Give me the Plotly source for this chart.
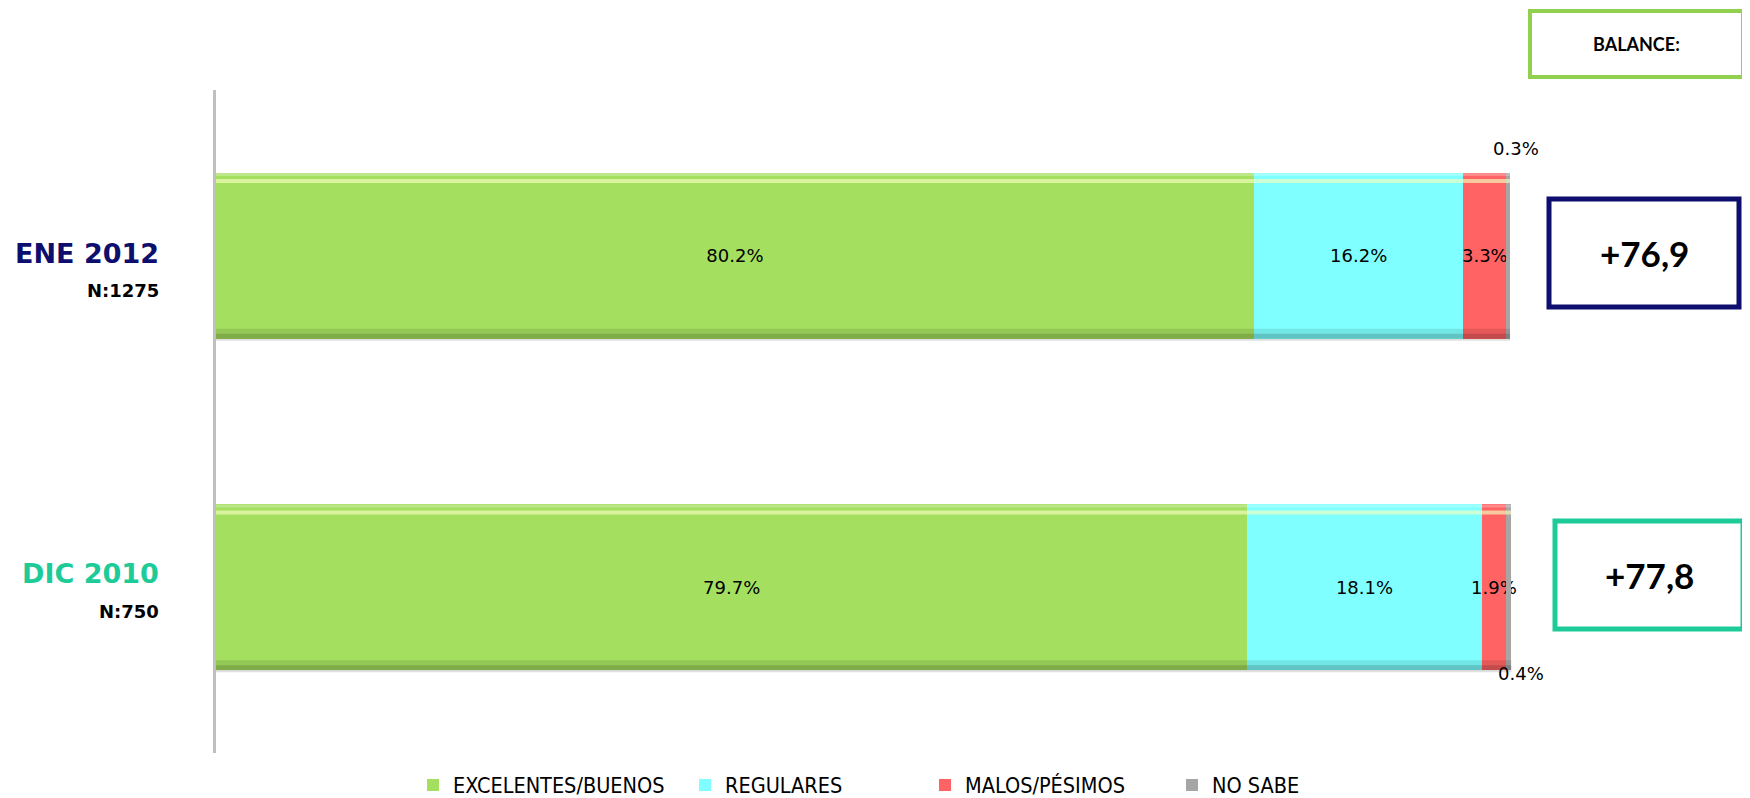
import plotly.graph_objects as go

# ---------------- data ----------------
periods = ["ENE 2012", "DIC 2010"]
sample_sizes = ["N:1275", "N:750"]
series_names = ["EXCELENTES/BUENOS", "REGULARES", "MALOS/PÉSIMOS", "NO SABE"]
excelentes = [80.2, 79.7]
regulares = [16.2, 18.1]
malos = [3.3, 1.9]
no_sabe = [0.3, 0.4]
balances = ["+76,9", "+77,8"]

# ---------------- style ----------------
colors = ["#A5DF60", "#7FFFFF", "#FF6363", "#A6A6A6"]
period_colors = ["#0E0E6E", "#1DCB98"]
legend_x_px = [413, 685, 925, 1172]  # left edge of each legend entry (reference pixels)
OFF = 8  # default page body margin
W, H = 1750 - OFF, 798 - OFF
L, R, T, B = 216 - OFF, 238, 90 - OFF, 45
PW, PH = W - L - R, H - T - B
XMAX = 100.15
FONT = "DejaVu Sans, sans-serif"
LEG_FONT = "DejaVu Sans Condensed, DejaVu Sans, sans-serif"


def px_x(px):
    return (px - OFF - L) / PW


def px_y(py):
    return (H - B - (py - OFF)) / PH


fig = go.Figure()
series = [excelentes, regulares, malos, no_sabe]
legend_ids = ["legend", "legend2", "legend3", "legend4"]
for name, vals, col, lid in zip(series_names, series, colors, legend_ids):
    show_text = name != "NO SABE"
    fig.add_trace(go.Bar(
        y=list(range(len(periods))), x=vals, name=name, orientation="h",
        marker=dict(color=col, line=dict(width=0)),
        width=0.5, legend=lid,
        text=[f"{v:.1f}%" for v in vals] if show_text else None,
        textposition="inside" if show_text else "none",
        insidetextanchor="middle", textangle=0, constraintext="none",
        textfont=dict(family=FONT, size=18, color="black"),
        cliponaxis=False,
        hoverinfo="name+x",
    ))

shapes = []
annotations = []
unit = 1.0 / (PH / 2)  # y data units per pixel
totals = [round(excelentes[i] + regulares[i] + malos[i] + no_sabe[i], 1) for i in range(len(periods))]
for i in range(len(periods)):
    total = totals[i]
    top = i - 0.25
    bot = i + 0.25
    # glossy highlight
    shapes.append(dict(type="rect", xref="x", yref="y", x0=0, x1=total,
                       y0=top, y1=top + 3 * unit, line=dict(width=0),
                       fillcolor="rgba(255,255,255,0.25)"))
    shapes.append(dict(type="line", xref="x", yref="y", x0=0, x1=total,
                       y0=top + 8 * unit, y1=top + 8 * unit,
                       line=dict(color="rgba(245,255,190,0.65)", width=4)))
    # darker bottom band
    shapes.append(dict(type="rect", xref="x", yref="y", x0=0, x1=total,
                       y0=bot - 10 * unit, y1=bot, line=dict(width=0),
                       fillcolor="rgba(0,0,0,0.10)"))
    shapes.append(dict(type="rect", xref="x", yref="y", x0=0, x1=total,
                       y0=bot - 5 * unit, y1=bot, line=dict(width=0),
                       fillcolor="rgba(0,0,0,0.14)"))
    # faint shadow below the bar
    shapes.append(dict(type="rect", xref="x", yref="y", x0=0, x1=total,
                       y0=bot, y1=bot + 2 * unit, line=dict(width=0),
                       fillcolor="rgba(0,0,0,0.12)"))

# no sabe labels outside the bars
annotations.append(dict(x=totals[0], y=0,
                        xref="x", yref="y", text=f"{no_sabe[0]:.1f}%", showarrow=False,
                        xshift=6, yshift=107,
                        font=dict(family=FONT, size=18, color="black")))
annotations.append(dict(x=totals[1], y=1,
                        xref="x", yref="y", text=f"{no_sabe[1]:.1f}%", showarrow=False,
                        xshift=10, yshift=-86,
                        font=dict(family=FONT, size=18, color="black")))

# period labels on the left
label_pos = [(253, 290), (573, 611)]
for i, (p, n) in enumerate(zip(periods, sample_sizes)):
    annotations.append(dict(x=px_x(161), y=px_y(label_pos[i][0]), xref="paper", yref="paper",
                            xanchor="right", yanchor="middle", text=f"<b>{p}</b>", showarrow=False,
                            font=dict(family=FONT, size=27, color=period_colors[i])))
    annotations.append(dict(x=px_x(161), y=px_y(label_pos[i][1]), xref="paper", yref="paper",
                            xanchor="right", yanchor="middle", text=f"<b>{n}</b>", showarrow=False,
                            font=dict(family=FONT, size=18, color="black")))

# balance boxes
boxes = [
    ((1530, 11, 1743, 77), "#92D050", 4, "<b>BALANCE:</b>", 18),
    ((1549, 199, 1739, 307), period_colors[0], 5, f"<b>{balances[0]}</b>", 35),
    ((1555, 521, 1743, 629), period_colors[1], 5, f"<b>{balances[1]}</b>", 35),
]
for (x0, y0, x1, y1), col, lw, txt, fs in boxes:
    shapes.append(dict(type="rect", xref="paper", yref="paper",
                       x0=px_x(x0), x1=px_x(x1), y0=px_y(y1), y1=px_y(y0),
                       line=dict(color=col, width=lw), fillcolor="white"))
    annotations.append(dict(x=px_x((x0 + x1) / 2), y=px_y((y0 + y1) / 2),
                            xref="paper", yref="paper", text=txt, showarrow=False,
                            xanchor="center", yanchor="middle",
                            font=dict(family="Lato, sans-serif", size=fs, color="black")))

legends = {}
for lid, lx in zip(legend_ids, legend_x_px):
    legends[lid] = dict(orientation="h", x=px_x(lx), y=px_y(785), xanchor="left", yanchor="middle",
                        font=dict(family=LEG_FONT, size=21.5, color="black"),
                        itemwidth=30, bgcolor="rgba(0,0,0,0)")

fig.update_layout(
    width=W, height=H,
    margin=dict(l=L, r=R, t=T, b=B, pad=0, autoexpand=False),
    barmode="stack",
    bargap=0.5,
    plot_bgcolor="white", paper_bgcolor="white",
    showlegend=True,
    xaxis=dict(range=[0, XMAX], visible=False, fixedrange=True),
    yaxis=dict(range=[1.5, -0.5], showticklabels=False, showgrid=False, zeroline=False,
               showline=True, linecolor="#BFBFBF", linewidth=3, ticks=""),
    shapes=shapes,
    annotations=annotations,
    **legends,
)

fig.write_html("out.html")
